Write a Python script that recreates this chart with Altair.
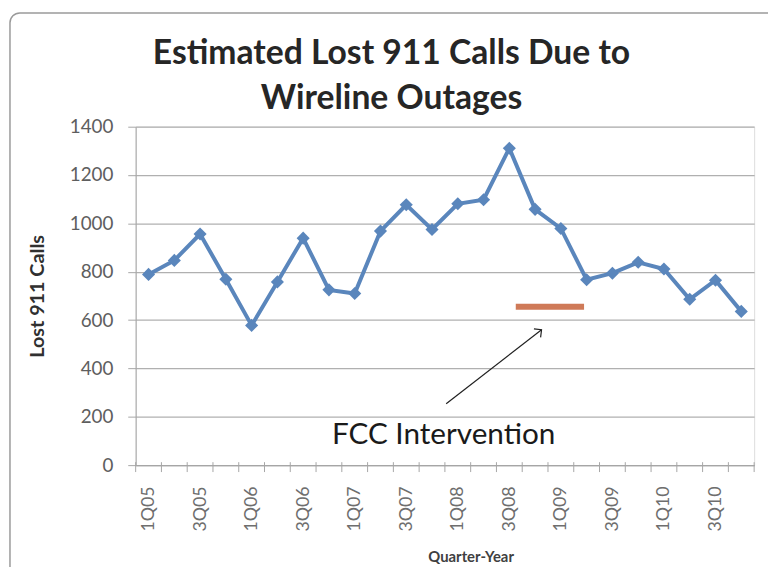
import altair as alt
import pandas as pd
import json

quarters = ["1Q05", "2Q05", "3Q05", "4Q05", "1Q06", "2Q06", "3Q06", "4Q06",
            "1Q07", "2Q07", "3Q07", "4Q07", "1Q08", "2Q08", "3Q08", "4Q08",
            "1Q09", "2Q09", "3Q09", "4Q09", "1Q10", "2Q10", "3Q10", "4Q10"]
calls = [789, 847, 956, 769, 578, 758, 939, 725, 710, 968, 1077, 975,
         1081, 1098, 1311, 1058, 979, 767, 794, 839, 811, 686, 765, 636]

# annotation values (in data units: quarter index, calls)
fcc_x = [14.25, 16.9]
fcc_y = 655
arrow_x = [11.55, 15.25]
arrow_y = [254, 560]
note_x = 11.45
note_y = 123
label_idx = list(range(0, 24, 2))
tick_pos = [i - 0.5 for i in range(25)]
title_text = "Estimated Lost 911 Calls Due to\nWireline Outages"

df = pd.DataFrame({"i": list(range(len(quarters))), "q": quarters, "calls": calls})

W, H = 625, 342
xscale = alt.Scale(domain=[-0.5, 23.5], nice=False, zero=False)
yscale = alt.Scale(domain=[0, 1400], nice=False)

label_expr = json.dumps(quarters) + "[datum.value]"

base = alt.Chart(df)

line = base.mark_line(color="#5A86BC", strokeWidth=4).encode(
    x=alt.X("i:Q", scale=xscale,
            axis=alt.Axis(values=label_idx, labelExpr=label_expr, labelAngle=-90,
                          labelAlign="right", labelBaseline="middle", labelPadding=21,
                          labelFontSize=18, labelColor="#6E6E6E", labelFont="Lato",
                          tickSize=0, grid=False, domainColor="#A6A6A6", domainWidth=1.5,
                          title="Quarter-Year", titleFont="Lato", titleFontSize=15,
                          titleFontWeight="bold", titleColor="#404040", titlePadding=19,
                          titleX=W / 2 + 26, titleAlign="center")),
    y=alt.Y("calls:Q", scale=yscale,
            axis=alt.Axis(values=list(range(0, 1401, 200)), format="d", labelFontSize=19,
                          labelColor="#5E5E5E", labelFont="Lato", tickSize=8,
                          tickColor="#A6A6A6", labelPadding=15, gridColor="#B0B0B0",
                          gridWidth=1.2, domainColor="#A6A6A6",
                          title="Lost 911 Calls", titleFont="Lato", titleFontSize=20,
                          titleFontWeight="bold", titleColor="#303030", titlePadding=22)),
)
points = base.mark_point(shape="diamond", filled=True, size=175, color="#5A86BC",
                         opacity=1).encode(x=alt.X("i:Q", scale=xscale),
                                           y=alt.Y("calls:Q", scale=yscale))

ticks = alt.Chart(pd.DataFrame({"t": tick_pos})).mark_rule(color="#A6A6A6").encode(
    x=alt.X("t:Q", scale=xscale), y=alt.value(H - 3), y2=alt.value(H + 7))

fcc = alt.Chart(pd.DataFrame({"x": [fcc_x[0]], "x2": [fcc_x[1]], "y": [fcc_y]})).mark_rule(
    color="#CF7A58", strokeWidth=6).encode(
    x=alt.X("x:Q", scale=xscale), x2="x2:Q", y=alt.Y("y:Q", scale=yscale))

arrow_df = pd.DataFrame({"x": arrow_x, "y": arrow_y, "o": [0, 1]})
arrow = alt.Chart(arrow_df).mark_line(color="#202020", strokeWidth=1.2).encode(
    x=alt.X("x:Q", scale=xscale), y=alt.Y("y:Q", scale=yscale), order="o:Q")
head = alt.Chart(pd.DataFrame({"x": [arrow_x[1]], "y": [arrow_y[1]]})).mark_point(
    shape="M -1 1 L 0 0 L 1 1", filled=False, size=120, angle=52, color="#202020",
    strokeWidth=1.2, opacity=1).encode(
    x=alt.X("x:Q", scale=xscale), y=alt.Y("y:Q", scale=yscale))

note = alt.Chart(pd.DataFrame({"x": [note_x], "y": [note_y], "t": ["FCC Intervention"]})).mark_text(
    font="Lato", fontSize=30, color="#1a1a1a").encode(
    x=alt.X("x:Q", scale=xscale), y=alt.Y("y:Q", scale=yscale), text="t:N")

title = alt.Chart(pd.DataFrame({"t": [title_text]})).mark_text(
    font="Lato", fontSize=34, fontWeight="bold", color="#262626", lineBreak="\n",
    lineHeight=45, align="center", baseline="middle").encode(
    x=alt.value(W / 2 - 54), y=alt.value(-73), text="t:N")

frame = alt.Chart(pd.DataFrame({"a": [0]})).mark_rect(
    fill=None, stroke="#9A9A9A", strokeWidth=1.5, cornerRadius=10, clip=False).encode(
    x=alt.value(-127), x2=alt.value(W + 40), y=alt.value(-115), y2=alt.value(H + 140))

chart = alt.layer(frame, ticks, line, points, fcc, arrow, head, note, title).properties(
    width=W, height=H,
    autosize=alt.AutoSizeParams(type="none"),
    padding={"left": 129, "top": 117, "right": 14, "bottom": 100},
).configure_view(stroke="#8C8C8C", strokeWidth=1.5).configure(background="white")

chart.save("out.html", embed_options={"renderer": "svg", "actions": False})
